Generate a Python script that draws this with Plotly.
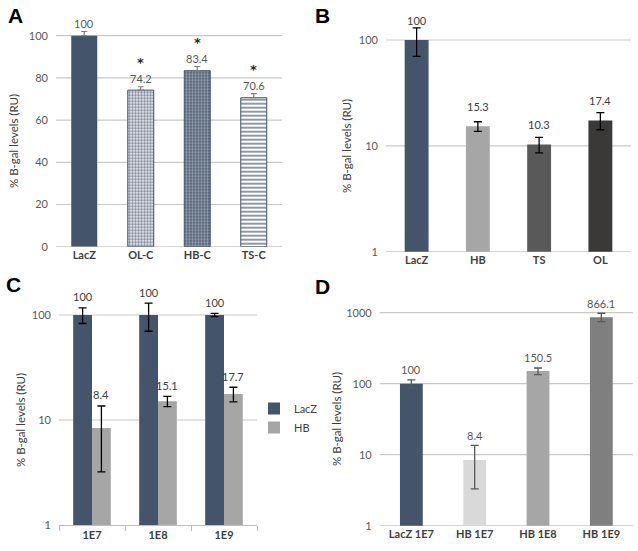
import math
import plotly.graph_objects as go

# ---------------- data ----------------
a_cats = ["LacZ", "OL-C", "HB-C", "TS-C"]
a_vals = [100, 74.2, 83.4, 70.6]
a_errs = [2.0, 1.6, 2.0, 1.9]
a_sig = ["", "*", "*", "*"]

b_cats = ["LacZ", "HB", "TS", "OL"]
b_vals = [100, 15.3, 10.3, 17.4]
b_errs = [30, 1.6, 1.7, 3.2]

c_cats = ["1E7", "1E8", "1E9"]
c_lacz = [100, 100, 100]
c_lacz_err = [17, 30, 3.6]
c_hb = [8.4, 15.1, 17.7]
c_hb_err = [5.2, 1.7, 2.8]

d_cats = ["LacZ 1E7", "HB 1E7", "HB 1E8", "HB 1E9"]
d_vals = [100, 8.4, 150.5, 866.1]
d_errs = [13.5, 5.1, 16, 117]

lin_ticks = [0, 20, 40, 60, 80, 100]
log_ticks2 = [1, 10, 100]
log_ticks3 = [1, 10, 100, 1000]

# ---------------- style ----------------
W, H = 638, 551
SLATE = "#44546a"
GRID = "#c9c9c9"
TICKC = "#595959"
CATC = "#404040"
FONT = "Lato, Open Sans, sans-serif"
Y_TITLE = "% B-gal levels (RU)"


def px(x0, x1, y0, y1):
    """pixel box -> paper domains"""
    return [x0 / W, x1 / W], [1 - y1 / H, 1 - y0 / H]


# plot areas (extended a little above the top tick so error bars are not clipped)
EXT = 14
dom = {
    "A": px(56, 282, 35.7 - EXT, 246.7),
    "B": px(386, 631, 40 - EXT, 251.7),
    "C": px(59, 257, 315 - EXT, 525),
    "D": px(379.7, 633, 312.7 - EXT, 525.7),
}
a_top = 100 + 100 * EXT / 211.0
b_top = 2 + EXT / 105.85
c_top = 2 + EXT / 105.0
d_top = 3 + EXT / 71.0

fig = go.Figure()

# Panel A : one trace per bar so each can carry its own fill pattern
a_styles = [
    dict(color=SLATE, line=dict(width=0)),
    dict(color="#ffffff", line=dict(color=SLATE, width=1),
         pattern=dict(shape=".", fgcolor="#7d889a", bgcolor="#ffffff", size=3,
                      solidity=0.6, fillmode="replace")),
    dict(color=SLATE, line=dict(color=SLATE, width=1),
         pattern=dict(shape=".", fgcolor="#97a1b0", bgcolor="#4a5a70", size=3,
                      solidity=0.5, fillmode="replace")),
    dict(color="#ffffff", line=dict(color=SLATE, width=1),
         pattern=dict(shape="-", fgcolor=SLATE, bgcolor="#ffffff", size=4,
                      solidity=0.3, fillmode="replace")),
]
for c, v, e, st in zip(a_cats, a_vals, a_errs, a_styles):
    fig.add_trace(go.Bar(
        x=[c], y=[v], xaxis="x", yaxis="y", showlegend=False, offsetgroup="a",
        width=0.46, marker=st,
        error_y=dict(type="data", array=[e], arrayminus=[0], symmetric=False,
                     color="#7f7f7f", thickness=1.2, width=3),
    ))

# Panel B
fig.add_trace(go.Bar(
    x=b_cats, y=b_vals, xaxis="x2", yaxis="y2", showlegend=False, width=0.39,
    marker=dict(color=[SLATE, "#a6a6a6", "#595959", "#3b3838"], line=dict(width=0)),
    error_y=dict(type="data", array=b_errs, color="#000000", thickness=1.3, width=4),
))

# Panel C
fig.add_trace(go.Bar(
    x=c_cats, y=c_lacz, name="LacZ", xaxis="x3", yaxis="y3",
    marker=dict(color=SLATE, line=dict(width=0)),
    error_y=dict(type="data", array=c_lacz_err, color="#000000", thickness=1.3, width=4),
))
fig.add_trace(go.Bar(
    x=c_cats, y=c_hb, name="HB", xaxis="x3", yaxis="y3",
    marker=dict(color="#a6a6a6", line=dict(width=0)),
    error_y=dict(type="data", array=c_hb_err, color="#000000", thickness=1.3, width=4),
))

# Panel D
fig.add_trace(go.Bar(
    x=d_cats, y=d_vals, xaxis="x4", yaxis="y4", showlegend=False, width=0.36,
    marker=dict(color=[SLATE, "#d9d9d9", "#a6a6a6", "#7f7f7f"], line=dict(width=0)),
    error_y=dict(type="data", array=d_errs, color="#595959", thickness=1.3, width=4),
))

ann = []


def fmt(v):
    return f"{v:g}"


C_BARGAP = 0.43
c_off = (1 - C_BARGAP) / 4

# value labels A (above bar top) + significance stars
for c, v, s in zip(a_cats, a_vals, a_sig):
    ann.append(dict(x=c, y=v, xref="x", yref="y", text=fmt(v), showarrow=False,
                    yanchor="middle", yshift=12, font=dict(size=11, color=TICKC, family=FONT)))
    if s:
        ann.append(dict(x=c, y=v, xref="x", yref="y", text="<b>" + s + "</b>", showarrow=False,
                        yanchor="middle", yshift=28,
                        font=dict(size=13, color="#262626", family="DejaVu Sans")))

# value labels B
for c, v in zip(b_cats, b_vals):
    ann.append(dict(x=c, y=math.log10(v), xref="x2", yref="y2", text=fmt(v), showarrow=False,
                    yanchor="middle", yshift=20, font=dict(size=11, color=CATC, family=FONT)))

# value labels C (above error bar top)
for i, c in enumerate(c_cats):
    for vals, errs, off in ((c_lacz, c_lacz_err, -c_off), (c_hb, c_hb_err, c_off)):
        v, e = vals[i], errs[i]
        ann.append(dict(x=i + off, y=math.log10(v + e), xref="x3", yref="y3", text=fmt(v),
                        showarrow=False, yanchor="middle", yshift=11,
                        font=dict(size=11, color=CATC, family=FONT)))

# value labels D
for c, v, e in zip(d_cats, d_vals, d_errs):
    ann.append(dict(x=c, y=math.log10(v + e), xref="x4", yref="y4", text=fmt(v), showarrow=False,
                    yanchor="middle", yshift=10, font=dict(size=11, color=TICKC, family=FONT)))

# y-axis titles
for xp, yp in ((13, 141), (346, 146), (20, 420), (336, 419)):
    ann.append(dict(x=xp / W, y=1 - yp / H, xref="paper", yref="paper", text=Y_TITLE,
                    textangle=-90, showarrow=False, xanchor="center", yanchor="middle",
                    font=dict(size=11.5, color=CATC, family=FONT)))

# panel letters
for letter, xp, yp in (("A", 15, 15), ("B", 322, 15), ("C", 13, 284), ("D", 322, 286)):
    ann.append(dict(x=xp / W, y=1 - yp / H, xref="paper", yref="paper", text="<b>" + letter + "</b>",
                    showarrow=False, xanchor="center", yanchor="middle",
                    font=dict(size=21, color="#000000", family="Liberation Sans, Arial")))

# horizontal gridlines at the tick values of each value axis (shapes take data values)
shapes = []
for xa, ya, ticks in (("x", "y", lin_ticks),
                      ("x2", "y2", log_ticks2),
                      ("x3", "y3", log_ticks2[1:]),
                      ("x4", "y4", log_ticks3)):
    for t in ticks:
        shapes.append(dict(type="line", xref=xa + " domain", yref=ya, x0=0, x1=1, y0=t, y1=t,
                           layer="below", line=dict(color=GRID, width=1.2)))


def bold(labels):
    return ["<b>" + t + "</b>" for t in labels]


CATFONT = dict(size=11, color=CATC, family=FONT)
xcommon = dict(type="category", showgrid=False, zeroline=False, ticks="", fixedrange=True,
               tickfont=CATFONT)
ycommon = dict(showgrid=False, zeroline=False, showline=False, fixedrange=True,
               ticks="", tickfont=dict(size=11, color=TICKC, family=FONT), ticklabelstandoff=7)

fig.update_layout(
    template="none",
    width=W, height=H, margin=dict(l=0, r=0, t=0, b=0, pad=0),
    paper_bgcolor="white", plot_bgcolor="white",
    font=dict(family=FONT, size=11, color=CATC),
    barmode="group", bargap=C_BARGAP,
    xaxis=dict(domain=dom["A"][0], anchor="y", tickvals=a_cats, ticktext=bold(a_cats), **xcommon),
    yaxis=dict(domain=dom["A"][1], anchor="x", range=[0, a_top], tickvals=lin_ticks, **ycommon),
    xaxis2=dict(domain=dom["B"][0], anchor="y2", tickvals=b_cats, ticktext=bold(b_cats), **xcommon),
    yaxis2=dict(domain=dom["B"][1], anchor="x2", type="log", range=[0, b_top],
                tickvals=log_ticks2, ticktext=[str(t) for t in log_ticks2], **ycommon),
    xaxis3=dict(domain=dom["C"][0], anchor="y3", type="category", showgrid=False, zeroline=False,
                showline=True, linecolor="#bfbfbf", linewidth=1, fixedrange=True,
                ticks="outside", tickson="boundaries", ticklen=5, tickcolor="#bfbfbf",
                tickvals=c_cats, ticktext=bold(c_cats), tickfont=CATFONT),
    yaxis3=dict(domain=dom["C"][1], anchor="x3", type="log", range=[0, c_top],
                tickvals=log_ticks2, ticktext=[str(t) for t in log_ticks2], **ycommon),
    xaxis4=dict(domain=dom["D"][0], anchor="y4", tickvals=d_cats, ticktext=bold(d_cats), **xcommon),
    yaxis4=dict(domain=dom["D"][1], anchor="x4", type="log", range=[0, d_top],
                tickvals=log_ticks3, ticktext=[str(t) for t in log_ticks3], **ycommon),
    annotations=ann,
    shapes=shapes,
    legend=dict(x=254 / W, y=1 - 394 / H, xanchor="left", yanchor="top",
                font=dict(size=11, color=CATC, family=FONT),
                bgcolor="rgba(0,0,0,0)", tracegroupgap=4),
)

fig.write_html("out.html", config={"displayModeBar": False},
               post_script="document.body.style.margin='0px';")
